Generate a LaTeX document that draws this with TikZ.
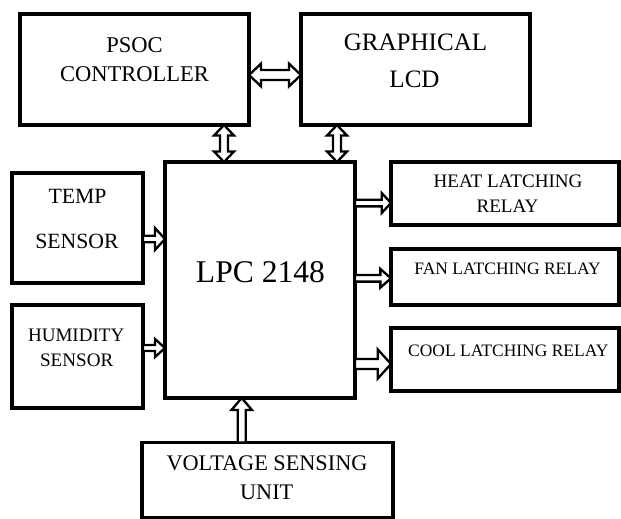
\documentclass[tikz,border=0pt]{standalone}
\usepackage{fontspec}
\setmainfont{Liberation Serif}
\usetikzlibrary{calc}
\tikzset{
  shaftw/.store in=\arrS, headw/.store in=\arrW, headl/.store in=\arrH,
  shaftw=2pt, headw=6pt, headl=7pt,
  box/.style={draw, line width=2.3pt, minimum width=#1, inner sep=0pt, outer sep=0pt},
  lbl/.style={inner sep=0pt, anchor=center, text=black},
  arrbase/.style={draw, fill=white, line width=1.75pt, line join=miter},
  harr/.style={arrbase,
    to path={let \p1=(\tikztostart), \p2=(\tikztotarget) in
      (\x1,\y1+\arrS) -- (\x2-\arrH,\y1+\arrS) -- (\x2-\arrH,\y1+\arrW) -- (\x2,\y1)
      -- (\x2-\arrH,\y1-\arrW) -- (\x2-\arrH,\y1-\arrS) -- (\x1,\y1-\arrS) -- cycle}},
  hdarr/.style={arrbase,
    to path={let \p1=(\tikztostart), \p2=(\tikztotarget) in
      (\x1,\y1) -- (\x1+\arrH,\y1+\arrW) -- (\x1+\arrH,\y1+\arrS) -- (\x2-\arrH,\y1+\arrS)
      -- (\x2-\arrH,\y1+\arrW) -- (\x2,\y1) -- (\x2-\arrH,\y1-\arrW) -- (\x2-\arrH,\y1-\arrS)
      -- (\x1+\arrH,\y1-\arrS) -- (\x1+\arrH,\y1-\arrW) -- cycle}},
  vdarr/.style={arrbase,
    to path={let \p1=(\tikztostart), \p2=(\tikztotarget) in
      (\x1,\y1) -- (\x1+\arrW,\y1-\arrH) -- (\x1+\arrS,\y1-\arrH) -- (\x1+\arrS,\y2+\arrH)
      -- (\x1+\arrW,\y2+\arrH) -- (\x1,\y2) -- (\x1-\arrW,\y2+\arrH) -- (\x1-\arrS,\y2+\arrH)
      -- (\x1-\arrS,\y1-\arrH) -- (\x1-\arrW,\y1-\arrH) -- cycle}},
  uarr/.style={arrbase,
    to path={let \p1=(\tikztostart), \p2=(\tikztotarget) in
      (\x1+\arrS,\y1) -- (\x1+\arrS,\y2-\arrH) -- (\x1+\arrW,\y2-\arrH) -- (\x1,\y2)
      -- (\x1-\arrW,\y2-\arrH) -- (\x1-\arrS,\y2-\arrH) -- (\x1-\arrS,\y1) -- cycle}}
}
\begin{document}
\begin{tikzpicture}[x=0.75pt,y=-0.75pt]
\useasboundingbox (0,0) rectangle (621,518);
% boxes
\node[box=171.75pt, minimum height=83.25pt] (psoc) at (134.5,69.5) {};
\node[box=171.75pt, minimum height=83.25pt] (glcd) at (415.5,69.5) {};
\node[box=98.25pt, minimum height=82.5pt] (temp) at (77.5,228) {};
\node[box=98.25pt, minimum height=77.25pt] (hum) at (77.5,356.5) {};
\node[box=142.5pt, minimum height=177pt] (lpc) at (260,280) {};
\node[box=171pt, minimum height=47.25pt] (heat) at (505,193.5) {};
\node[box=171pt, minimum height=42pt] (fan) at (505,277) {};
\node[box=171pt, minimum height=47.25pt] (cool) at (505,359.5) {};
\node[box=188.25pt, minimum height=56.25pt] (volt) at (267.5,480) {};
% texts
\node[lbl, font=\fontsize{16.9}{18}\selectfont] (t1) at (134.5,45) {PSOC};
\node[lbl, font=\fontsize{16.9}{18}\selectfont] (t2) at (134.5,74) {CONTROLLER};
\node[lbl, font=\fontsize{18.8}{20}\selectfont] (t3) at (415.5,42.5) {GRAPHICAL};
\node[lbl, font=\fontsize{18.8}{20}\selectfont] (t4) at (414.5,79) {LCD};
\node[lbl, font=\fontsize{16.3}{18}\selectfont] (t5) at (77.5,196) {TEMP};
\node[lbl, font=\fontsize{16.3}{18}\selectfont] (t6) at (77,241.7) {SENSOR};
\node[lbl, font=\fontsize{14.3}{16}\selectfont] (t7) at (76.2,335) {HUMIDITY};
\node[lbl, font=\fontsize{14.3}{16}\selectfont] (t8) at (76.7,360.7) {SENSOR};
\node[lbl, font=\fontsize{23.7}{26}\selectfont] (t9) at (260.5,271.7) {LPC 2148};
\node[lbl, font=\fontsize{14.3}{16}\selectfont] (t10) at (508,181) {HEAT LATCHING};
\node[lbl, font=\fontsize{14.3}{16}\selectfont] (t11) at (507.5,206.7) {RELAY};
\node[lbl, font=\fontsize{13.1}{15}\selectfont] (t12) at (507.5,268.8) {FAN LATCHING RELAY};
\node[lbl, font=\fontsize{13.1}{15}\selectfont] (t13) at (508.3,351) {COOL LATCHING RELAY};
\node[lbl, font=\fontsize{16.7}{18}\selectfont] (t14) at (267,463) {VOLTAGE SENSING};
\node[lbl, font=\fontsize{16.7}{18}\selectfont] (t15) at (266.7,492) {UNIT};
% arrows
\draw[hdarr, shaftw=3.75pt, headw=8.5pt, headl=9pt]
  ($(psoc.east)+(0,5.5)$) to ($(glcd.west)+(0,5.5)$);
\draw[vdarr, shaftw=3pt, headw=7.5pt, headl=7.9pt]
  ($(psoc.south)+(89.5,0)$) to ($(lpc.north)+(-36,0)$);
\draw[vdarr, shaftw=3pt, headw=7.5pt, headl=7.9pt]
  ($(glcd.south)+(-78.5,0)$) to ($(lpc.north)+(77,0)$);
\draw[harr, shaftw=2.4pt, headw=8.2pt, headl=7.5pt]
  ($(temp.east)+(0,11)$) to ($(temp.east -| lpc.west)+(0,11)$);
\draw[harr, shaftw=2.25pt, headw=6.75pt, headl=7.5pt]
  ($(hum.east)+(0,-8.5)$) to ($(hum.east -| lpc.west)+(0,-8.5)$);
\draw[harr, shaftw=2.5pt, headw=7.5pt, headl=7pt]
  ($(lpc.east |- heat.west)+(0,9.5)$) to ($(heat.west)+(0,9.5)$);
\draw[harr, shaftw=2.5pt, headw=7pt, headl=8pt]
  ($(lpc.east |- fan.west)+(0,1.3)$) to ($(fan.west)+(0,1.3)$);
\draw[harr, shaftw=3.75pt, headw=11pt, headl=10pt]
  ($(lpc.east |- cool.west)+(0,4.5)$) to ($(cool.west)+(0,4.5)$);
\draw[uarr, shaftw=3pt, headw=7.7pt, headl=9pt]
  ($(volt.north)+(-25.8,0)$) to ($(volt.north |- lpc.south)+(-25.8,0)$);
\end{tikzpicture}
\end{document}
